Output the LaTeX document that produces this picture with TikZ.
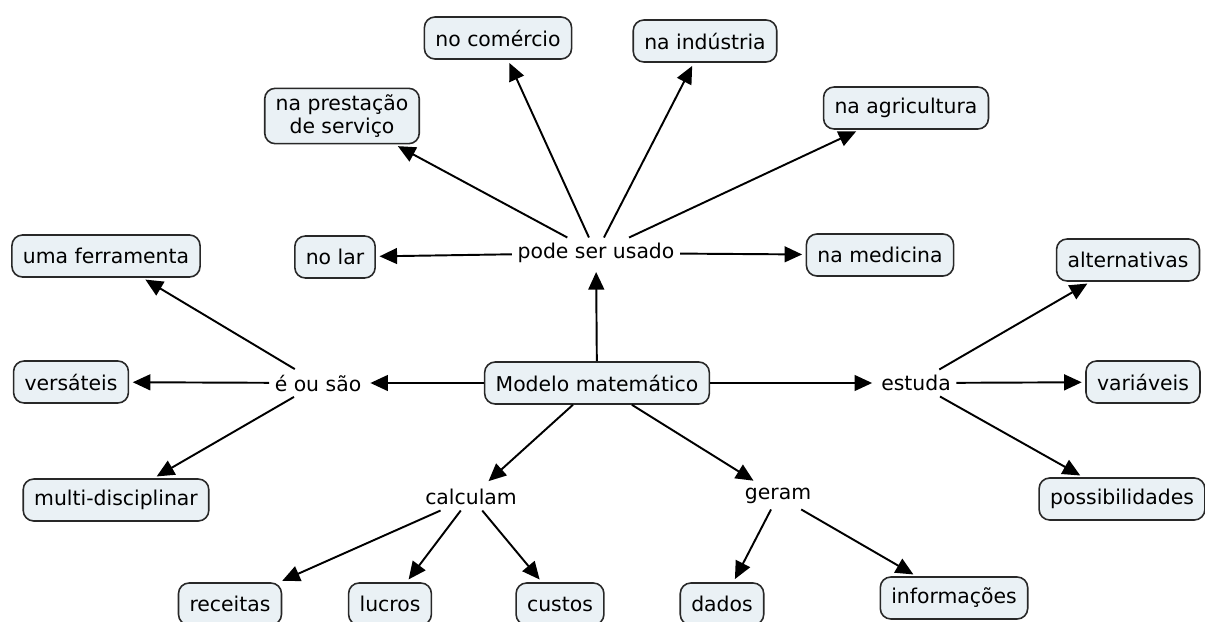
\documentclass[tikz,border=0pt]{standalone}
\usepackage{fontspec}
\setmainfont{DejaVu Sans}
\usetikzlibrary{arrows.meta,positioning}
\definecolor{conceptfill}{RGB}{234,241,245}
\definecolor{conceptdraw}{RGB}{40,40,40}

\begin{document}
\begin{tikzpicture}[x=0.02cm,y=-0.02cm,
    concept/.style={draw=conceptdraw, fill=conceptfill, rounded corners=6pt, line width=0.9pt,
        minimum height=0.84cm, inner xsep=0.22cm, align=center, font=\fontsize{11.6}{13.6}\selectfont},
    link/.style={inner sep=3pt, font=\fontsize{11.6}{13.6}\selectfont},
    arrow/.style={-{Triangle[length=10pt,width=9pt]}, line width=1.1pt, black, shorten >=2pt}
]
\useasboundingbox (0,0) rectangle (1205,622);

% Central concept
\node[concept] (mm) at (597,383) {Modelo matemático};

% Linking phrases
\node[link] (usado) at (596,253) {pode ser usado};
\node[link] (eou) at (318,383) {é ou são};
\node[link] (estuda) at (916,383) {estuda};
\node[link] (calc) at (471,497) {calculam};
\node[link] (geram) at (778,496) {geram};

% Where it is used
\node[concept] (comercio) at (498,38) {no comércio};
\node[concept] (industria) at (705,41) {na indústria};
\node[concept] (servico) at (342,116) {na prestação\\de serviço};
\node[concept] (agric) at (906,108) {na agricultura};
\node[concept] (lar) at (335,257) {no lar};
\node[concept] (medic) at (880,255) {na medicina};

% What it is
\node[concept] (ferram) at (106,256) {uma ferramenta};
\node[concept] (versat) at (71,382) {versáteis};
\node[concept] (multi) at (116,500) {multi-disciplinar};

% What it studies
\node[concept] (altern) at (1128,260) {alternativas};
\node[concept] (variav) at (1143,382) {variáveis};
\node[concept] (possib) at (1122,499) {possibilidades};

% What it calculates / generates
\node[concept] (receitas) at (230,604) {receitas};
\node[concept] (lucros) at (390,604) {lucros};
\node[concept] (custos) at (560,604) {custos};
\node[concept] (dados) at (722,604) {dados};
\node[concept] (inform) at (954,598) {informações};

% Arrows from the central concept
\draw[arrow] (mm) -- (usado);
\draw[arrow] (mm) -- (eou);
\draw[arrow] (mm) -- (estuda);
\draw[arrow] (mm) -- (calc);
\draw[arrow] (mm) -- (geram);

% Arrows from the linking phrases
\draw[arrow] (usado) -- (comercio);
\draw[arrow] (usado) -- (industria);
\draw[arrow] (usado) -- (servico);
\draw[arrow] (usado) -- (agric);
\draw[arrow] (usado) -- (lar);
\draw[arrow] (usado) -- (medic);

\draw[arrow] (eou) -- (ferram);
\draw[arrow] (eou) -- (versat);
\draw[arrow] (eou) -- (multi);

\draw[arrow] (estuda) -- (altern);
\draw[arrow] (estuda) -- (variav);
\draw[arrow] (estuda) -- (possib);

\draw[arrow] (calc) -- (receitas);
\draw[arrow] (calc) -- (lucros);
\draw[arrow] (calc) -- (custos);
\draw[arrow] (geram) -- (dados);
\draw[arrow] (geram) -- (inform);

\end{tikzpicture}
\end{document}
